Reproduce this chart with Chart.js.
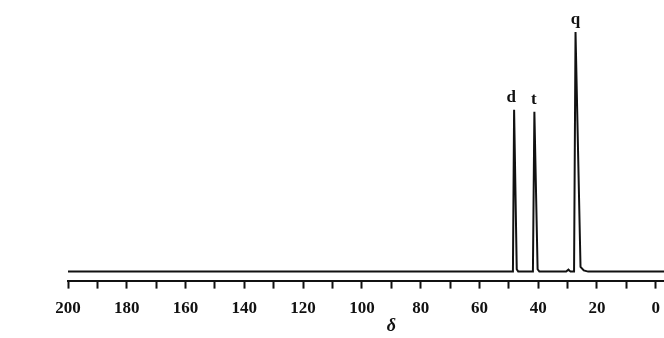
<!DOCTYPE html>
<html>
<head>
<meta charset="utf-8">
<script src="https://cdn.jsdelivr.net/npm/chart.js@4.4.1/dist/chart.umd.min.js"></script>
<style>
  html, body { margin: 0; padding: 0; background: #fff; overflow: hidden; }
  #wrap { width: 664px; height: 338px; overflow: hidden; }
</style>
</head>
<body>
<div id="wrap"><canvas id="nmrChart" width="670" height="338"></canvas></div>
<script>
// 13C NMR spectrum, chemical shift (ppm) vs intensity

// spectrum trace
const spectrumShift = [200, 48.6, 48.2, 47.3, 46.8, 41.8, 41.3, 40.2, 39.6, 30.5, 29.7, 29.0, 27.8, 27.3, 25.6, 24.5, 23.0, -3.4];
const spectrumIntensity = [0, 0, 67.5, 1, 0, 0, 66.7, 1, 0, 0, 0.8, 0, 0, 100, 2, 0.5, 0, 0];

// multiplicity labels over the peaks
const peakLabels = ["d", "t", "q"];
const peakLabelShift = [49.2, 41.5, 27.3];
const peakTop = [67.5, 66.7, 100];

// axis ticks
const tickValues = [200, 180, 160, 140, 120, 100, 80, 60, 40, 20, 0];

const serif = "'Liberation Serif', 'DejaVu Serif', serif";

const peakLabelPlugin = {
  id: "peakLabels",
  afterDatasetsDraw(chart) {
    const ctx = chart.ctx;
    const xs = chart.scales.x;
    const ys = chart.scales.y;
    ctx.save();
    ctx.fillStyle = "#111";
    ctx.font = "bold 17px " + serif;
    ctx.textAlign = "center";
    ctx.textBaseline = "bottom";
    for (let i = 0; i < peakLabels.length; i++) {
      ctx.fillText(peakLabels[i], xs.getPixelForValue(peakLabelShift[i]), ys.getPixelForValue(peakTop[i]) - 4);
    }
    // axis symbol
    ctx.font = "italic bold 18px " + serif;
    ctx.textBaseline = "middle";
    ctx.fillText("δ", xs.getPixelForValue(90), 326);
    ctx.restore();
  }
};

new Chart(document.getElementById("nmrChart"), {
  type: "line",
  data: {
    datasets: [{
      data: spectrumShift.map((s, i) => ({ x: s, y: spectrumIntensity[i] })),
      borderColor: "#111",
      borderWidth: 2,
      pointRadius: 0,
      tension: 0,
      fill: false
    }]
  },
  options: {
    responsive: false,
    animation: false,
    layout: { padding: { top: 32, left: 68, right: 0, bottom: 9 } },
    plugins: { legend: { display: false }, tooltip: { enabled: false } },
    scales: {
      x: {
        type: "linear",
        reverse: true,
        min: -3.4,
        max: 200,
        afterBuildTicks: (scale) => {
          const t = [];
          for (let v = 200; v >= 0; v -= 10) t.push({ value: v });
          scale.ticks = t;
        },
        ticks: {
          autoSkip: false,
          maxRotation: 0,
          padding: 10,
          color: "#111",
          font: { family: serif, size: 17, weight: "bold" },
          callback: (v) => (tickValues.includes(v) ? String(v) : "")
        },
        grid: {
          drawOnChartArea: false,
          drawTicks: true,
          tickLength: 8,
          tickWidth: 2,
          tickColor: "#111"
        },
        border: { display: true, color: "#111", width: 2 }
      },
      y: {
        display: false,
        min: -3.75,
        max: 100
      }
    }
  },
  plugins: [peakLabelPlugin]
});
</script>
</body>
</html>
